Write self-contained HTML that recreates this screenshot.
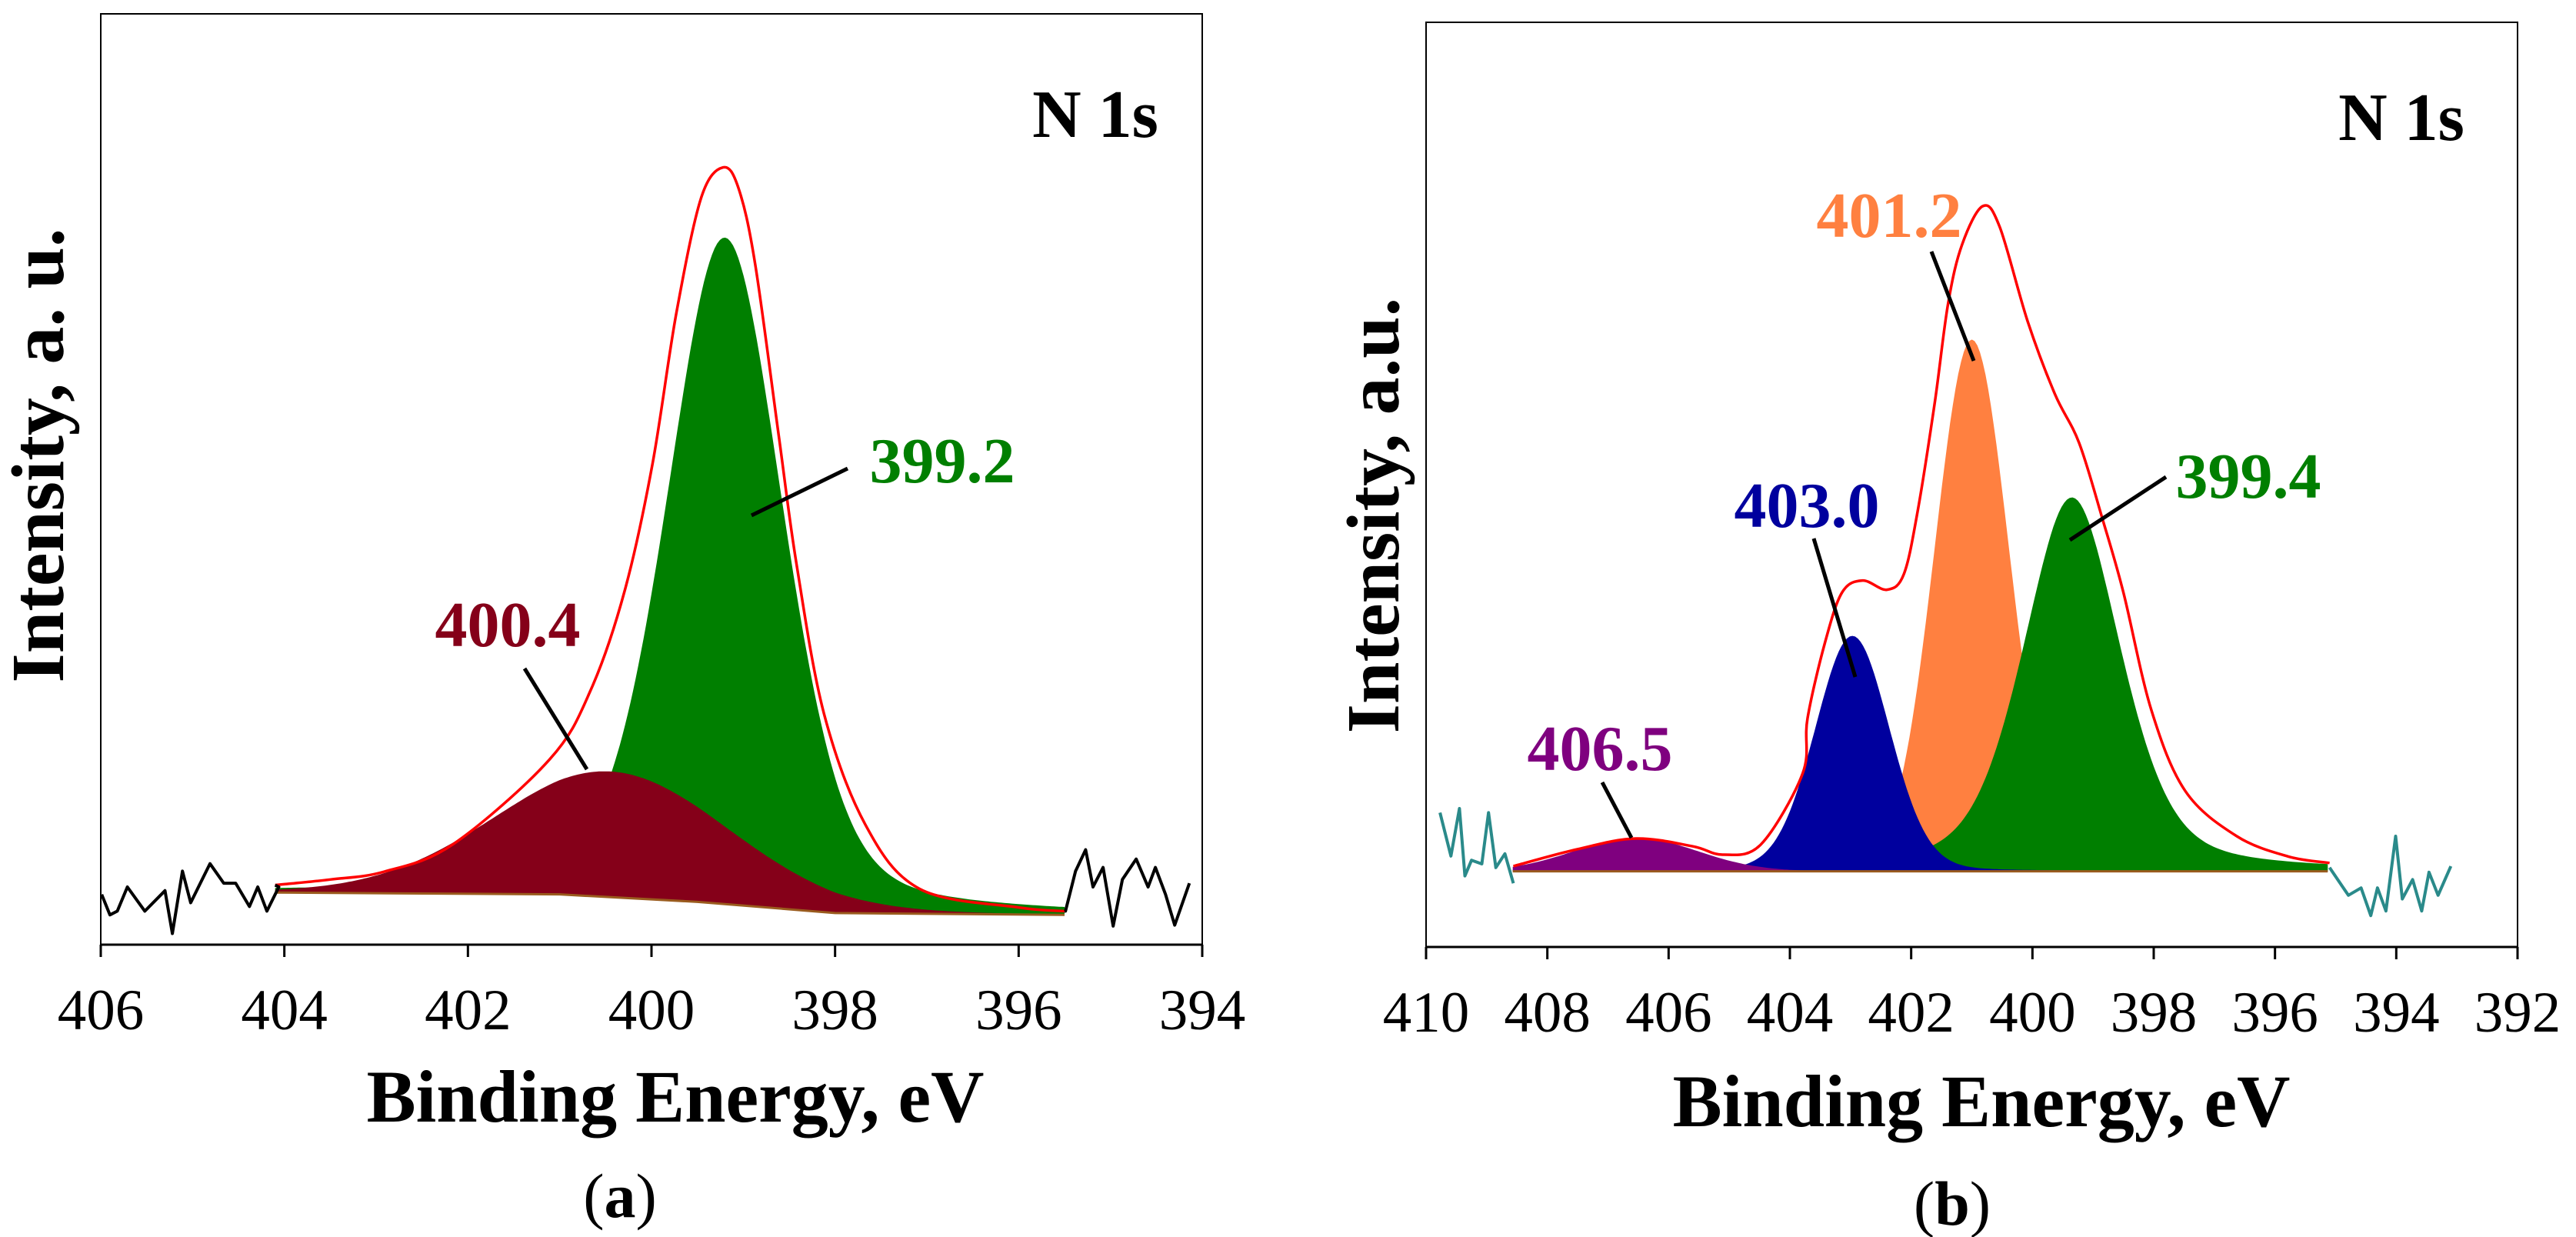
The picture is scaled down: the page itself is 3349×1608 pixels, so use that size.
<!DOCTYPE html>
<html><head><meta charset="utf-8"><style>
html,body{margin:0;padding:0;background:#fff}
svg{display:block}
text{font-family:"Liberation Serif",serif}
</style></head><body>
<svg id="fig" width="3349" height="1608" viewBox="0 0 3349 1608" xmlns="http://www.w3.org/2000/svg">
<rect width="3349" height="1608" fill="#fff"/>
<g id="pa"></g>
<g id="pb"></g>
</svg>
<script>
// ---------- Panel A data ----------
const aTicks = [406, 404, 402, 400, 398, 396, 394];
const aBaseE = [404.1, 401, 399.5, 398, 395.5];
const aBaseI = [5.6, 5.4, 4.6, 3.4, 3.2];
const aCompCenter = [399.2, 400.45];
const aCompHeight = [71.6, 13.5];
const aCompFwhm = [1.5, 3.0];
const aCompEta = [0.3, 0.05];
const aCompColor = ["#007f00", "#850019"];
const aCompName = ["peak-399-2", "peak-400-4"];
const aEnvE = [404.1, 403.5, 402.91, 402.16, 401.11, 400.66, 400.29, 399.99, 399.73, 399.46, 399.22, 399.05, 398.87, 398.61, 398.42, 398.12, 397.67, 397.08, 396.0, 395.5];
const aEnvI = [6.4, 7.0, 7.85, 10.8, 19.9, 27.4, 38.1, 51.6, 67.8, 80.2, 83.5, 81.2, 73.1, 54.4, 40.9, 24.8, 12.9, 6.0, 4.0, 3.6];
const aNoiseLE = [405.99, 405.90, 405.82, 405.71, 405.52, 405.30, 405.22, 405.11, 405.02, 404.81, 404.66, 404.53, 404.38, 404.29, 404.19, 404.06, 404.1];
const aNoiseLI = [5.4, 3.2, 3.6, 6.2, 3.6, 5.8, 1.2, 7.9, 4.5, 8.7, 6.6, 6.6, 4.1, 6.2, 3.6, 6.2, 6.4];
const aNoiseRE = [395.5, 395.49, 395.38, 395.27, 395.19, 395.08, 394.97, 394.87, 394.72, 394.59, 394.51, 394.40, 394.30, 394.14];
const aNoiseRI = [3.6, 3.6, 7.9, 10.2, 6.2, 8.3, 2.0, 7.0, 9.2, 6.2, 8.3, 5.4, 2.1, 6.6];

// ---------- Panel B data ----------
const bTicks = [410, 408, 406, 404, 402, 400, 398, 396, 394, 392];
const bBaseE = [408.57, 395.13];
const bBaseI = [8.2, 8.2];
const bCompCenter = [401.0, 399.35, 402.97, 406.54];
const bCompHeight = [57.6, 40.5, 25.5, 3.6];
const bCompFwhm = [1.45, 1.9, 1.45, 2.4];
const bCompEta = [0.05, 0.4, 0.1, 0.0];
const bCompColor = ["#ff8040", "#007f00", "#00009e", "#7f007f"];
const bCompName = ["peak-401-2", "peak-399-4", "peak-403-0", "peak-406-5"];
const bEnvE = [408.56, 407.5, 406.54, 405.6, 405.10, 404.48, 403.79, 403.71, 403.42, 403.14, 402.80, 402.40, 402.12, 401.89, 401.61, 401.39, 401.16, 400.82, 400.54, 400.08, 399.63, 399.23, 398.84, 398.50, 398.04, 397.48, 396.63, 395.78, 395.10];
const bEnvI = [8.75, 10.6, 11.75, 10.9, 10.0, 11.1, 18.8, 24.75, 33.0, 38.4, 39.7, 38.7, 40.4, 47.3, 59.0, 69.75, 76.1, 80.25, 78.0, 67.8, 59.9, 54.6, 46.25, 38.4, 25.7, 16.9, 12.0, 9.8, 9.1];
const bNoiseLE = [409.77, 409.59, 409.45, 409.36, 409.25, 409.08, 408.97, 408.85, 408.70, 408.56];
const bNoiseLI = [14.55, 9.85, 15.0, 7.7, 9.4, 9.0, 14.55, 8.6, 10.1, 6.9];
const bNoiseRE = [395.10, 394.79, 394.58, 394.42, 394.31, 394.17, 394.01, 393.90, 393.73, 393.58, 393.46, 393.31, 393.10];
const bNoiseRI = [8.6, 5.6, 6.4, 3.4, 6.4, 3.9, 12.0, 5.2, 7.3, 3.9, 8.1, 5.6, 8.75];

const NS = "http://www.w3.org/2000/svg";
function mk(parent, tag, attrs, txt) {
  const el = document.createElementNS(NS, tag);
  for (const k in attrs) el.setAttribute(k, attrs[k]);
  if (txt !== undefined) el.textContent = txt;
  parent.appendChild(el);
  return el;
}
function interp(xs, ys, x) {
  if (x >= xs[0]) return ys[0];
  for (let i = 1; i < xs.length; i++) {
    if (x >= xs[i]) { const t = (xs[i-1]-x)/(xs[i-1]-xs[i]); return ys[i-1] + t*(ys[i]-ys[i-1]); }
  }
  return ys[ys.length-1];
}
function pv(E, c, h, f, eta) {
  const d = E - c, s = f / 2.3548, g = Math.exp(-d*d/(2*s*s)), l = 1/(1 + Math.pow(2*d/f, 2));
  return h * ((1-eta)*g + eta*l);
}
function smoothPath(pts) {
  let d = "M" + pts[0][0].toFixed(1) + "," + pts[0][1].toFixed(1);
  for (let i = 0; i < pts.length - 1; i++) {
    const p0 = pts[Math.max(0, i-1)], p1 = pts[i], p2 = pts[i+1], p3 = pts[Math.min(pts.length-1, i+2)];
    const c1x = p1[0] + (p2[0]-p0[0])/6, c1y = p1[1] + (p2[1]-p0[1])/6;
    const c2x = p2[0] - (p3[0]-p1[0])/6, c2y = p2[1] - (p3[1]-p1[1])/6;
    d += " C" + c1x.toFixed(1) + "," + c1y.toFixed(1) + " " + c2x.toFixed(1) + "," + c2y.toFixed(1) + " " + p2[0].toFixed(1) + "," + p2[1].toFixed(1);
  }
  return d;
}

function drawPanel(g, cfg) {
  const X = e => cfg.x0 + (cfg.e0 - e) * (cfg.x1 - cfg.x0) / (cfg.e0 - cfg.e1);
  const Y = i => cfg.yb - i * cfg.ys;
  const eStart = cfg.baseE[0], eEnd = cfg.baseE[cfg.baseE.length-1];
  for (let k = 0; k < cfg.cc.length; k++) {
    let top = [], bot = [];
    const N = 300;
    for (let j = 0; j <= N; j++) {
      const E = eStart - (eStart - eEnd) * j / N;
      const b = interp(cfg.baseE, cfg.baseI, E);
      top.push(X(E).toFixed(1) + "," + Y(b + pv(E, cfg.cc[k], cfg.ch[k], cfg.cf[k], cfg.ce[k])).toFixed(1));
      bot.unshift(X(E).toFixed(1) + "," + Y(b).toFixed(1));
    }
    const p = mk(g, "polygon", {points: top.concat(bot).join(" "), fill: cfg.col[k]});
    
    
  }
  const bl = mk(g, "polyline", {points: cfg.baseE.map((e,i)=>X(e)+","+Y(cfg.baseI[i])).join(" "), fill:"none", stroke:"#9a5b1e", "stroke-width":3});
  
  
  const envPts = cfg.envE.map((e,i)=>[X(e), Y(cfg.envI[i])]);
  const env = mk(g, "path", {d: smoothPath(envPts), fill:"none", stroke:"#ff0000", "stroke-width":3.5, "stroke-linejoin":"round"});
  
  
  [[cfg.nLE, cfg.nLI, 'raw-data-left'], [cfg.nRE, cfg.nRI, 'raw-data-right']].forEach(n => {
    const pl = mk(g, "polyline", {points: n[0].map((e,i)=>X(e).toFixed(1)+","+Y(n[1][i]).toFixed(1)).join(" "), fill:"none", stroke:cfg.noiseCol, "stroke-width":4, "stroke-linejoin":"round"});
    
    
  });
  const fr = mk(g, "rect", {x:cfg.x0, y:cfg.yt, width:cfg.x1-cfg.x0, height:cfg.yb0-cfg.yt, fill:"none", stroke:"#000", "stroke-width":2});
  
  
  const ax = mk(g, "line", {x1:cfg.x0, y1:cfg.yb0, x2:cfg.x1, y2:cfg.yb0, stroke:"#000", "stroke-width":3});
  
  
  cfg.ticks.forEach(t => {
    const tl = mk(g, "line", {x1:X(t), y1:cfg.yb0, x2:X(t), y2:cfg.yb0+16, stroke:"#000", "stroke-width":3});
    
    
    const tx = mk(g, "text", {x:X(t), y:cfg.yb0+110, "font-size":75, "text-anchor":"middle"}, String(t));
    
    
  });
}

const pa = document.getElementById('pa'), pb = document.getElementById('pb');
drawPanel(pa, {x0:131, x1:1563, e0:406, e1:394, yb:1228, yb0:1228, yt:18, ys:12.1,
  baseE:aBaseE, baseI:aBaseI, cc:aCompCenter, ch:aCompHeight, cf:aCompFwhm, ce:aCompEta, col:aCompColor, cn:aCompName,
  envE:aEnvE, envI:aEnvI, nLE:aNoiseLE, nLI:aNoiseLI, nRE:aNoiseRE, nRI:aNoiseRI, noiseCol:"#000", ticks:aTicks});
drawPanel(pb, {x0:1854, x1:3273, e0:410, e1:392, yb:1231, yb0:1231, yt:29, ys:12.0,
  baseE:bBaseE, baseI:bBaseI, cc:bCompCenter, ch:bCompHeight, cf:bCompFwhm, ce:bCompEta, col:bCompColor, cn:bCompName,
  envE:bEnvE, envI:bEnvI, nLE:bNoiseLE, nLI:bNoiseLI, nRE:bNoiseRE, nRI:bNoiseRI, noiseCol:"#2a8a8a", ticks:bTicks});
</script>
<div style="position:absolute;left:0;top:0;width:3349px;height:1608px;pointer-events:none">
<svg width="3349" height="1608" viewBox="0 0 3349 1608" xmlns="http://www.w3.org/2000/svg" style="position:absolute;left:0;top:0">
<g font-family="Liberation Serif, serif" font-weight="bold">
<text x="1424" y="178" font-size="88" text-anchor="middle">N 1s</text>
<text x="1225" y="627" font-size="84" text-anchor="middle" fill="#007f00">399.2</text>
<line x1="1102" y1="609" x2="977" y2="670" stroke="#000" stroke-width="5"/>
<text x="660" y="840" font-size="84" text-anchor="middle" fill="#850019">400.4</text>
<line x1="682" y1="869" x2="763" y2="1000" stroke="#000" stroke-width="5"/>
<text x="878" y="1458" font-size="96" text-anchor="middle">Binding Energy, eV</text>
<text transform="translate(82,592) rotate(-90)" font-size="98" text-anchor="middle">Intensity, a. u.</text>
<text x="806" y="1582" font-size="82" text-anchor="middle"><tspan font-weight="normal">(</tspan>a<tspan font-weight="normal">)</tspan></text>

<text x="3122" y="182" font-size="88" text-anchor="middle">N 1s</text>
<text x="2456" y="308" font-size="84" text-anchor="middle" fill="#ff8040">401.2</text>
<line x1="2511" y1="327" x2="2566" y2="469" stroke="#000" stroke-width="5"/>
<text x="2349" y="685" font-size="84" text-anchor="middle" fill="#00009e">403.0</text>
<line x1="2358" y1="700" x2="2412" y2="880" stroke="#000" stroke-width="5"/>
<text x="2923" y="647" font-size="84" text-anchor="middle" fill="#007f00">399.4</text>
<line x1="2816" y1="620" x2="2691" y2="702" stroke="#000" stroke-width="5"/>
<text x="2080" y="1001" font-size="84" text-anchor="middle" fill="#7f007f">406.5</text>
<line x1="2083" y1="1017" x2="2121" y2="1089" stroke="#000" stroke-width="5"/>
<text x="2576" y="1464" font-size="96" text-anchor="middle">Binding Energy, eV</text>
<text transform="translate(1818,670) rotate(-90)" font-size="98" text-anchor="middle">Intensity, a.u.</text>
<text x="2538" y="1592" font-size="82" text-anchor="middle"><tspan font-weight="normal">(</tspan>b<tspan font-weight="normal">)</tspan></text>
</g>
</svg>
</div>
</body></html>
